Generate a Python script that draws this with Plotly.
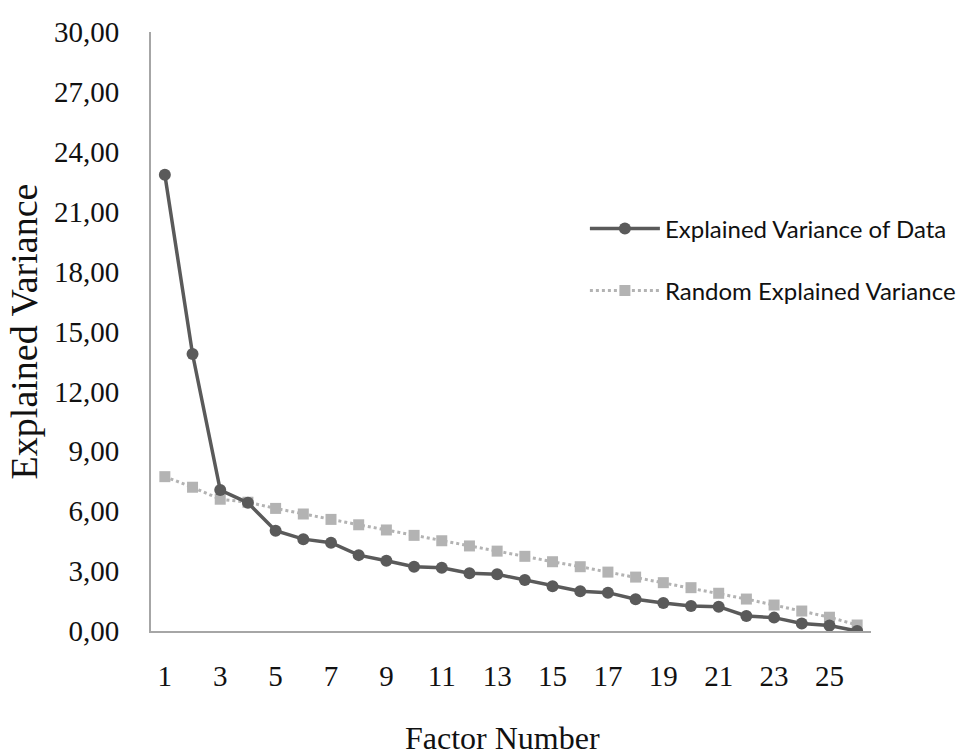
import plotly.graph_objects as go

factors = list(range(1, 27))
data_variance = [22.85, 13.87, 7.06, 6.42, 5.02, 4.60, 4.42, 3.80, 3.52, 3.22, 3.17,
                 2.89, 2.84, 2.55, 2.24, 1.99, 1.92, 1.59, 1.40, 1.25, 1.22, 0.75,
                 0.67, 0.38, 0.27, 0.00]
random_variance = [7.73, 7.20, 6.60, 6.45, 6.14, 5.86, 5.59, 5.32, 5.06, 4.79, 4.52,
                   4.26, 4.00, 3.74, 3.47, 3.22, 2.95, 2.70, 2.42, 2.17, 1.89, 1.60,
                   1.30, 1.00, 0.69, 0.30]
y_ticks = [0, 3, 6, 9, 12, 15, 18, 21, 24, 27, 30]
x_ticks = list(range(1, 27, 2))

serif = "Liberation Serif, Times New Roman, serif"

fig = go.Figure()
fig.add_trace(go.Scatter(
    x=factors, y=random_variance, mode="lines+markers",
    name="Random Explained Variance", legendgroup="b", legendrank=2,
    line=dict(color="#b3b3b3", width=3, dash="dot"),
    marker=dict(symbol="square", size=11, color="#b3b3b3"),
))
fig.add_trace(go.Scatter(
    x=factors, y=data_variance, mode="lines+markers",
    name="Explained Variance of Data", legendgroup="a", legendrank=1,
    line=dict(color="#5a5a5a", width=3.5),
    marker=dict(symbol="circle", size=12, color="#5a5a5a"),
))

fig.update_layout(
    width=962, height=753,
    margin=dict(l=151, r=91, t=32, b=122, autoexpand=False),
    paper_bgcolor="white", plot_bgcolor="white",
    separators=",.",
    showlegend=True,
    legend=dict(
        xref="container", yref="container",
        x=0.608, y=0.726, xanchor="left", yanchor="top",
        font=dict(family="Lato, Carlito, sans-serif", size=24, color="#111111"),
        traceorder="grouped", tracegroupgap=28, itemwidth=70,
        bgcolor="rgba(0,0,0,0)",
    ),
    xaxis=dict(
        range=[0.5, 26.5], tickmode="array", tickvals=x_ticks,
        showgrid=False, zeroline=False, showline=True, automargin=False,
        linecolor="#a6a6a6", linewidth=2, ticks="",
        ticklabelstandoff=18,
        tickfont=dict(family=serif, size=29, color="#111111"),
    ),
    yaxis=dict(
        range=[0, 30], tickmode="array", tickvals=y_ticks, tickformat=".2f",
        showgrid=False, zeroline=False, showline=True, automargin=False,
        linecolor="#a6a6a6", linewidth=2, ticks="",
        ticklabelstandoff=24,
        tickfont=dict(family=serif, size=29, color="#111111"),
        title=dict(text="Explained Variance", standoff=5,
                   font=dict(family=serif, size=38, color="#111111")),
    ),
    annotations=[dict(
        text="Factor Number", xref="paper", yref="paper",
        x=0.4875, y=-0.179, xanchor="center", yanchor="middle",
        showarrow=False, font=dict(family=serif, size=32, color="#111111"),
    )],
)

fig.write_html("out.html", config={"displayModeBar": False},
               post_script="document.body.style.margin='0';document.body.style.overflow='hidden';")
